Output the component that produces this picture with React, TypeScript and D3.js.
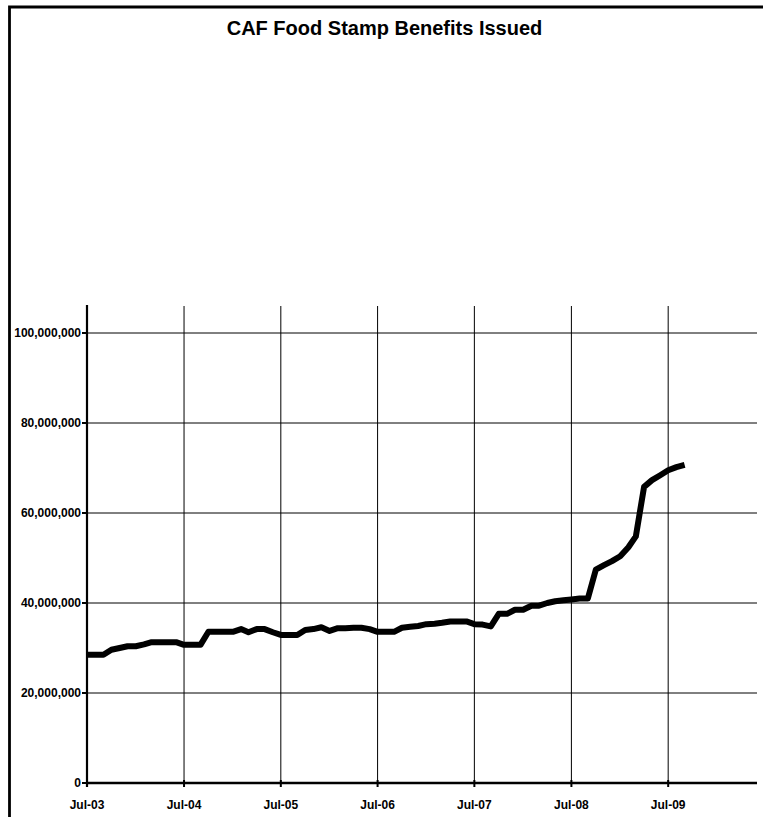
import React from "react";
import * as d3 from "d3";

const title = "CAF Food Stamp Benefits Issued";

const months = [
  "2003-07", "2003-08", "2003-09", "2003-10", "2003-11", "2003-12",
  "2004-01", "2004-02", "2004-03", "2004-04", "2004-05", "2004-06",
  "2004-07", "2004-08", "2004-09", "2004-10", "2004-11", "2004-12",
  "2005-01", "2005-02", "2005-03", "2005-04", "2005-05", "2005-06",
  "2005-07", "2005-08", "2005-09", "2005-10", "2005-11", "2005-12",
  "2006-01", "2006-02", "2006-03", "2006-04", "2006-05", "2006-06",
  "2006-07", "2006-08", "2006-09", "2006-10", "2006-11", "2006-12",
  "2007-01", "2007-02", "2007-03", "2007-04", "2007-05", "2007-06",
  "2007-07", "2007-08", "2007-09", "2007-10", "2007-11", "2007-12",
  "2008-01", "2008-02", "2008-03", "2008-04", "2008-05", "2008-06",
  "2008-07", "2008-08", "2008-09", "2008-10", "2008-11", "2008-12",
  "2009-01", "2009-02", "2009-03", "2009-04", "2009-05", "2009-06",
  "2009-07", "2009-08", "2009-09",
];

const benefits = [
  28.5e6, 28.5e6, 28.5e6, 29.6e6, 30.0e6, 30.4e6,
  30.4e6, 30.8e6, 31.3e6, 31.3e6, 31.3e6, 31.3e6,
  30.7e6, 30.7e6, 30.7e6, 33.6e6, 33.6e6, 33.6e6,
  33.6e6, 34.2e6, 33.5e6, 34.2e6, 34.2e6, 33.5e6,
  32.9e6, 32.9e6, 32.9e6, 34.0e6, 34.2e6, 34.6e6,
  33.8e6, 34.4e6, 34.4e6, 34.5e6, 34.5e6, 34.2e6,
  33.6e6, 33.6e6, 33.6e6, 34.5e6, 34.7e6, 34.9e6,
  35.3e6, 35.4e6, 35.6e6, 35.9e6, 35.9e6, 35.9e6,
  35.3e6, 35.2e6, 34.8e6, 37.6e6, 37.6e6, 38.5e6,
  38.5e6, 39.4e6, 39.4e6, 40.0e6, 40.4e6, 40.6e6,
  40.8e6, 41.0e6, 41.0e6, 47.4e6, 48.4e6, 49.3e6,
  50.4e6, 52.4e6, 54.8e6, 65.8e6, 67.3e6, 68.4e6,
  69.5e6, 70.2e6, 70.7e6,
];

const yTicks = [0, 20e6, 40e6, 60e6, 80e6, 100e6];
const xTickMonths = ["2003-07", "2004-07", "2005-07", "2006-07", "2007-07", "2008-07", "2009-07"];
const xTickLabels = ["Jul-03", "Jul-04", "Jul-05", "Jul-06", "Jul-07", "Jul-08", "Jul-09"];

const parseMonth = d3.utcParse("%Y-%m");
const domainStart = "2003-07";
const domainEnd = "2010-06";
const yMax = 106e6;

const W = 763;
const H = 817;
const plot = { left: 87, right: 757, top: 306, bottom: 783 };

export default function App() {
  const x = d3
    .scaleUtc()
    .domain([parseMonth(domainStart) as Date, parseMonth(domainEnd) as Date])
    .range([plot.left, plot.right]);
  const y = d3.scaleLinear().domain([0, yMax]).range([plot.bottom, plot.top]);

  const data = months.map((m, i) => ({ date: parseMonth(m) as Date, value: benefits[i] }));
  const line = d3
    .line<{ date: Date; value: number }>()
    .x((d) => x(d.date))
    .y((d) => y(d.value));

  const font = "Liberation Sans, Arial, Helvetica, sans-serif";

  return (
    <>
      <style>{`html,body{margin:0;padding:0;overflow:hidden;background:#fff;}`}</style>
      <svg
        width={W}
        height={H}
        style={{ display: "block", position: "fixed", left: 0, top: 0 }}
        fontFamily={font}
      >
        <rect x={0} y={0} width={W} height={H} fill="#fff" stroke="none" />
        {/* outer frame (clipped by the page) */}
        <path d={`M${W + 10},7 H9.5 V${H + 10}`} fill="none" stroke="#000" strokeWidth={2.8} />

        <text x={384.5} y={35} textAnchor="middle" fontSize={20} fontWeight="bold" fill="#000">
          {title}
        </text>

        {/* gridlines */}
        {yTicks
          .filter((t) => t > 0)
          .map((t) => (
            <line key={"gy" + t} x1={plot.left} x2={plot.right} y1={y(t)} y2={y(t)} stroke="#000" strokeWidth={1} />
          ))}
        {xTickMonths.slice(1).map((m) => {
          const xv = x(parseMonth(m) as Date);
          return <line key={"gx" + m} x1={xv} x2={xv} y1={plot.top} y2={plot.bottom} stroke="#000" strokeWidth={1} />;
        })}

        {/* axes */}
        <line x1={plot.left} x2={plot.left} y1={plot.top - 1} y2={plot.bottom + 4} stroke="#000" strokeWidth={2.2} />
        <line x1={plot.left - 1} x2={plot.right} y1={plot.bottom} y2={plot.bottom} stroke="#000" strokeWidth={2.6} />

        {/* y ticks & labels */}
        {yTicks.map((t) => (
          <g key={"yt" + t}>
            <line x1={plot.left - 5} x2={plot.left} y1={y(t)} y2={y(t)} stroke="#000" strokeWidth={2} />
            <text
              x={plot.left - 6}
              y={y(t)}
              dy="0.36em"
              textAnchor="end"
              fontSize={12}
              fontWeight="bold"
              fill="#000"
            >
              {d3.format(",")(t)}
            </text>
          </g>
        ))}

        {/* x ticks & labels */}
        {xTickMonths.map((m, i) => {
          const xv = x(parseMonth(m) as Date);
          return (
            <g key={"xt" + m}>
              <line x1={xv} x2={xv} y1={plot.bottom - 3} y2={plot.bottom + 4} stroke="#000" strokeWidth={2} />
              <text x={xv} y={809} textAnchor="middle" fontSize={12} fontWeight="bold" fill="#000">
                {xTickLabels[i]}
              </text>
            </g>
          );
        })}

        {/* data line */}
        <path d={line(data) || ""} fill="none" stroke="#000" strokeWidth={6} strokeLinejoin="round" />
      </svg>
    </>
  );
}
